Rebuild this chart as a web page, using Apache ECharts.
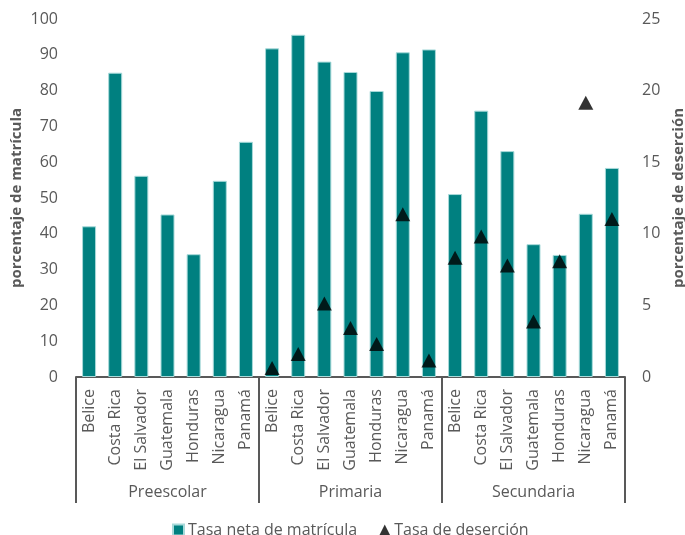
<!DOCTYPE html>
<html>
<head>
<meta charset="utf-8">
<script src="https://cdn.jsdelivr.net/npm/echarts@6/dist/echarts.min.js"></script>
<style>html,body{margin:0;padding:0;background:#fff}#c{width:685px;height:535px}</style>
</head>
<body>
<div id="c"></div>
<script>
const countries = ['Belice','Costa Rica','El Salvador','Guatemala','Honduras','Nicaragua','Panamá'];
const levels = ['Preescolar','Primaria','Secundaria'];
const matricula = [
  42.1, 85.0, 56.2, 45.4, 34.3, 54.8, 65.7,
  91.8, 95.6, 88.1, 85.2, 79.9, 90.7, 91.5,
  51.1, 74.4, 63.1, 37.1, 34.1, 45.6, 58.4
];
const desercion = [
  null, null, null, null, null, null, null,
  0.63, 1.6, 5.13, 3.42, 2.3, 11.37, 1.15,
  8.32, 9.81, 7.78, 3.87, 8.08, 19.15, 11.04
];
const leftTicks = [0, 100, 10];
const rightTicks = [0, 25, 5];

const categories = [];
levels.forEach(l => countries.forEach(c => categories.push(c)));

const FONT = 'Open Sans';
const TXT = '#595959';
const chart = echarts.init(document.getElementById('c'));
chart.setOption({
  animation: false,
  textStyle: { fontFamily: FONT },
  grid: { left: 76, right: 60, top: 19, bottom: 158, containLabel: false, outerBoundsMode: 'none' },
  legend: {
    top: 517, left: 167, itemGap: 22, itemWidth: 11, itemHeight: 11,
    textStyle: { fontSize: 16, color: TXT, fontFamily: FONT, padding: [0, 0, 0, -1] },
    data: [
      { name: 'Tasa neta de matrícula', icon: 'rect' },
      { name: 'Tasa de deserción', icon: 'triangle' }
    ]
  },
  xAxis: [
    {
      type: 'category', data: categories, position: 'bottom',
      axisLine: { lineStyle: { color: TXT, width: 2 } },
      axisTick: { show: false },
      axisLabel: { rotate: 90, interval: 0, margin: 12, fontSize: 16, color: TXT, fontFamily: FONT }
    },
    {
      type: 'category', data: levels, position: 'bottom', gridIndex: 0,
      axisLine: { show: false },
      axisTick: { show: true, length: 126, lineStyle: { color: TXT, width: 2 } },
      axisLabel: { interval: 0, margin: 107, fontSize: 16, color: TXT, fontFamily: FONT },
      splitLine: { show: false }
    }
  ],
  yAxis: [
    {
      type: 'value', min: leftTicks[0], max: leftTicks[1], interval: leftTicks[2],
      name: 'porcentaje de matrícula', nameLocation: 'middle', nameRotate: 90, nameGap: 52,
      nameMoveOverlap: false,
      nameTextStyle: { fontSize: 15, fontWeight: 'bold', color: TXT, fontFamily: FONT },
      axisLine: { show: false }, axisTick: { show: false }, splitLine: { show: false },
      axisLabel: { margin: 18, fontSize: 16, color: TXT, fontFamily: FONT }
    },
    {
      type: 'value', min: rightTicks[0], max: rightTicks[1], interval: rightTicks[2],
      position: 'right',
      name: 'porcentaje de deserción', nameLocation: 'middle', nameRotate: 90, nameGap: 46,
      nameMoveOverlap: false,
      nameTextStyle: { fontSize: 15, fontWeight: 'bold', color: TXT, fontFamily: FONT },
      axisLine: { show: false }, axisTick: { show: false }, splitLine: { show: false },
      axisLabel: { margin: 17, fontSize: 16, color: TXT, fontFamily: FONT }
    }
  ],
  series: [
    {
      name: 'Tasa neta de matrícula', type: 'bar', xAxisIndex: 0, yAxisIndex: 0,
      data: matricula, barWidth: 14,
      itemStyle: { color: '#008080', borderColor: '#a8dada', borderWidth: 1 }
    },
    {
      name: 'Tasa de deserción', type: 'scatter', xAxisIndex: 0, yAxisIndex: 1,
      data: desercion, symbol: 'triangle', symbolSize: [15, 14],
      itemStyle: { color: '#000' }, z: 5
    }
  ]
});
</script>
</body>
</html>
